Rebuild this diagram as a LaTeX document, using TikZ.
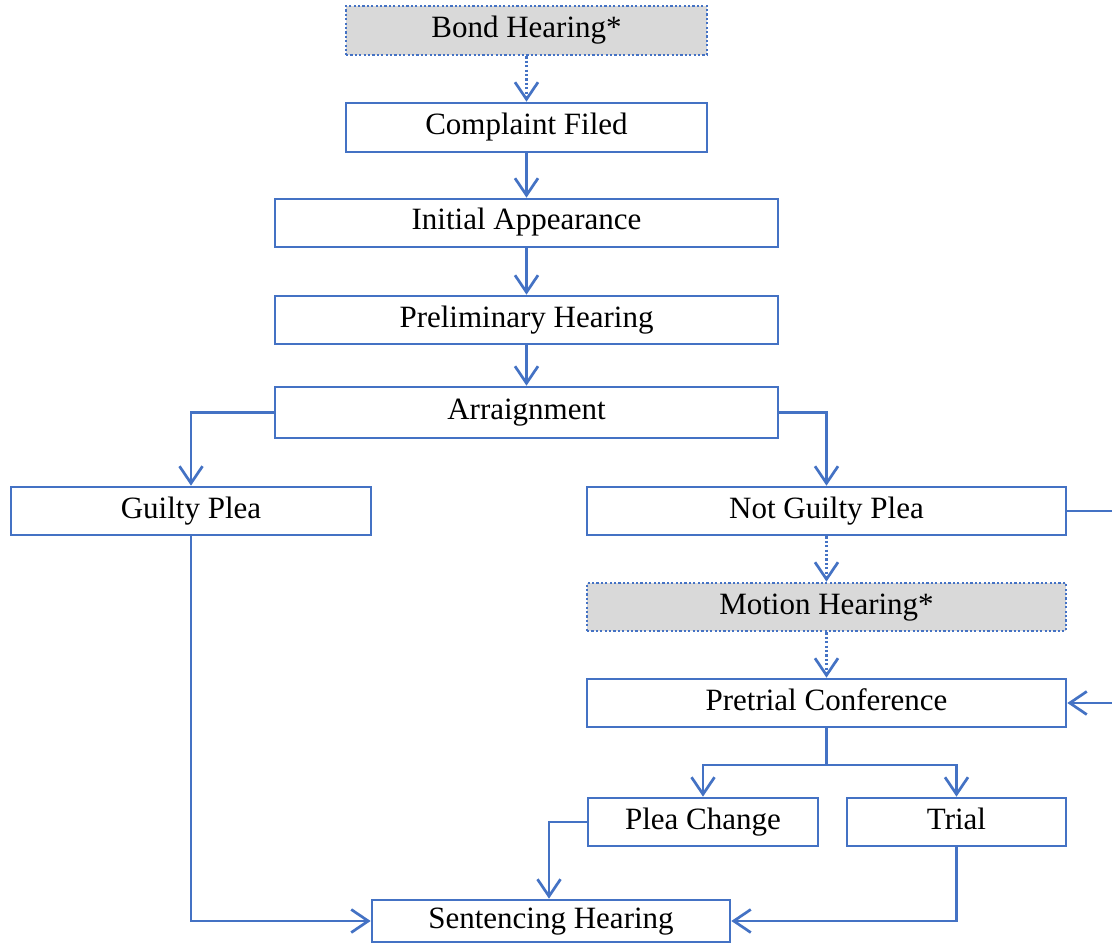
\documentclass[tikz,border=0pt]{standalone}
\usepackage{fontspec}
\setmainfont{Liberation Serif}
\usetikzlibrary{arrows.meta}
\definecolor{lineblue}{HTML}{4472C4}
\definecolor{boxgray}{HTML}{D9D9D9}
\tikzset{
  box/.style={draw=lineblue, line width=2.7pt, fill=white, inner sep=0pt,
    text height=21pt, text depth=7pt,
    font=\fontsize{31}{36}\selectfont, text=black},
  optbox/.style={box, fill=boxgray, dash pattern=on 2.2pt off 2.2pt},
  conn/.style={draw=lineblue, line width=2.7pt, -{Straight Barb[length=17pt,width=23pt]}},
  plain/.style={draw=lineblue, line width=2.7pt},
  dotconn/.style={conn, dash pattern=on 2.2pt off 2.2pt}
}
\begin{document}
\begin{tikzpicture}[x=1pt,y=-1pt]
\clip (0,0) rectangle (1112,944);
\fill[white] (0,0) rectangle (1112,944);
\node[optbox, minimum width=361pt, minimum height=49pt] (bond) at (526.5,30.5) {Bond Hearing*};
\node[box, minimum width=361pt, minimum height=49pt] (complaint) at (526.5,127.5) {Complaint Filed};
\node[box, minimum width=503pt, minimum height=48pt] (initial) at (526.5,223) {Initial Appearance};
\node[box, minimum width=503pt, minimum height=48pt] (prelim) at (526.5,320) {Preliminary Hearing};
\node[box, minimum width=503pt, minimum height=51pt] (arraign) at (526.5,412.5) {Arraignment};
\node[box, minimum width=360pt, minimum height=48pt] (guilty) at (191,511) {Guilty Plea};
\node[box, minimum width=479pt, minimum height=48pt] (notguilty) at (826.5,511) {Not Guilty Plea};
\node[optbox, minimum width=479pt, minimum height=48pt] (motion) at (826.5,607) {Motion Hearing*};
\node[box, minimum width=479pt, minimum height=48pt] (pretrial) at (826.5,703) {Pretrial Conference};
\node[box, minimum width=230pt, minimum height=48pt] (pleachange) at (703,822) {Plea Change};
\node[box, minimum width=219pt, minimum height=48pt] (trial) at (956.5,822) {Trial};
\node[box, minimum width=358pt, minimum height=42pt] (sentencing) at (551,921) {Sentencing Hearing};

\coordinate (loopA) at (1130,511);
\coordinate (loopB) at (1130,703);
\coordinate (split) at (826.5,765);

\draw[dotconn] (bond) -- (complaint);
\draw[conn] (complaint) -- (initial);
\draw[conn] (initial) -- (prelim);
\draw[conn] (prelim) -- (arraign);
\draw[conn] (arraign.west) -| (guilty.north);
\draw[conn] (arraign.east) -| (notguilty.north);
\draw[dotconn] (notguilty) -- (motion);
\draw[dotconn] (motion) -- (pretrial);
\draw[conn] (notguilty.east) -- (loopA) -- (loopB) -- (pretrial.east);
\draw[plain] (pretrial.south) -- (split);
\draw[conn] (split) -| (pleachange.north);
\draw[conn] (split) -| (trial.north);
\draw[conn] (pleachange.west) -| ([xshift=-2pt]sentencing.north);
\draw[conn] (guilty.south) |- (sentencing.west);
\draw[conn] (trial.south) |- (sentencing.east);
\end{tikzpicture}
\end{document}
